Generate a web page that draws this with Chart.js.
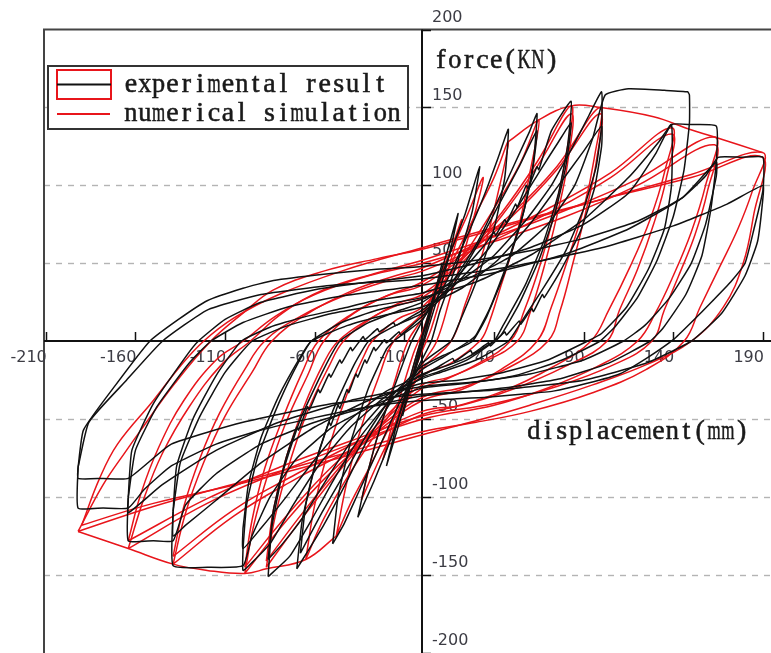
<!DOCTYPE html>
<html>
<head>
<meta charset="utf-8">
<script src="https://cdn.jsdelivr.net/npm/chart.js@4/dist/chart.umd.min.js"></script>
<style>
  html, body { margin: 0; padding: 0; background: #fff; }
  canvas { display: block; }
</style>
</head>
<body>
<canvas id="c" width="771" height="653"></canvas>
<script>
// Tick values along the two axes
const xTickValues = [-210, -160, -110, -60, -10, 40, 90, 140, 190];
const yTickValues = [-200, -150, -100, -50, 0, 50, 100, 150, 200];
const yGridValues = [-150, -100, -50, 50, 100, 150];

// Experimental hysteresis loops, [displacement mm, force kN]
const expLoop11 = [[-11,-48],[-5,-20],[0,2],[6,26],[11,50],[6,24],[0,-2],[-6,-26],[-11,-48]];
const expLoop20 = [[-20,-80],[-14,-52],[-6,-20],[0,4],[8,35],[14,58],[20,82],[15,55],[8,26],[0,-4],[-8,-34],[-14,-57],[-20,-80]];
const expLoop32 = [[-36,-113],[-30,-82],[-22,-50],[-12,-18],[-6,0],[4,22],[14,52],[24,82],[32,112],[28,84],[20,52],[10,20],[5,0],[-6,-25],[-16,-58],[-27,-90],[-36,-113]];
const expLoop48 = [[-50,-130],[-47,-100],[-40,-65],[-30,-30],[-20,-5],[-16,0],[0,14],[12,35],[24,65],[35,95],[43,120],[48,136],[46,105],[40,72],[30,38],[20,10],[16,0],[0,-14],[-12,-38],[-24,-68],[-36,-98],[-44,-118],[-50,-130]];
const expLoop64 = [[-70,-146],[-67,-115],[-60,-80],[-50,-45],[-38,-15],[-30,0],[-15,10],[0,18],[15,35],[30,62],[42,90],[52,115],[60,135],[64,146],[62,115],[57,85],[48,52],[38,22],[30,4],[26,0],[12,-10],[0,-18],[-15,-35],[-30,-62],[-43,-92],[-55,-118],[-64,-135],[-70,-146]];
const expLoop64b = [[-68,-136],[-65,-105],[-58,-72],[-52,-52],[-51,-54],[-47,-41],[-46,-43],[-42,-31],[-41,-33],[-37,-21],[-36,-23],[-32,-12],[-31,-14],[-27,-4],[-26,-6],[-21,1],[-20,-1],[-13,6],[-12,4],[-5,11],[0,16],[16,34],[30,60],[42,86],[54,112],[64,135],[61,106],[55,76],[46,44],[36,16],[28,0],[12,-9],[0,-16],[-16,-34],[-30,-58],[-44,-86],[-56,-110],[-68,-136]];
const expLoop83 = [[-86,-151],[-84,-120],[-78,-85],[-68,-50],[-55,-18],[-46,0],[-30,12],[-12,20],[0,25],[18,40],[35,62],[40,70],[41,68],[46,78],[47,76],[52,88],[53,86],[58,100],[59,98],[64,112],[65,110],[72,135],[83,154],[81,125],[76,95],[68,65],[57,35],[45,10],[40,0],[25,-12],[8,-20],[0,-23],[-18,-38],[-35,-62],[-50,-90],[-62,-115],[-74,-138],[-86,-151]];
const expLoop83b = [[-86,-140],[-83,-108],[-76,-75],[-70,-55],[-69,-57],[-64,-42],[-63,-44],[-58,-31],[-57,-33],[-52,-21],[-51,-23],[-46,-12],[-45,-14],[-40,-4],[-39,-6],[-33,3],[-32,1],[-25,8],[-24,6],[-16,12],[-15,10],[-6,16],[0,20],[18,36],[36,58],[52,84],[66,110],[76,128],[83,140],[80,112],[74,82],[65,52],[54,24],[44,4],[40,0],[24,-11],[8,-18],[0,-21],[-18,-35],[-36,-58],[-52,-86],[-66,-112],[-78,-130],[-86,-140]];
const expLoop100 = [[-100,-133],[-98,-105],[-92,-75],[-82,-45],[-72,-20],[-62,0],[-45,12],[-25,20],[0,27],[20,38],[40,55],[58,78],[72,100],[84,125],[93,145],[100,160],[100,138],[97,112],[90,85],[80,58],[68,35],[55,12],[48,0],[30,-12],[10,-20],[0,-24],[-20,-35],[-40,-55],[-58,-80],[-72,-105],[-85,-130],[-95,-142],[-100,-147],[-100,-133]];
const expLoop100b = [[-100,-120],[-97,-92],[-90,-62],[-80,-35],[-68,-10],[-62,0],[-42,10],[-20,17],[0,22],[22,34],[42,52],[60,75],[76,100],[90,122],[100,138],[100,125],[96,98],[88,70],[77,45],[68,28],[67,30],[62,19],[61,21],[55,11],[54,13],[47,4],[46,6],[38,-3],[37,-1],[28,-8],[27,-6],[18,-13],[17,-11],[8,-17],[0,-22],[-20,-32],[-42,-52],[-60,-76],[-76,-100],[-90,-120],[-100,-133],[-100,-120]];
const expLoop139 = [[-139,-109],[-135,-78],[-124,-48],[-110,-20],[-95,0],[-75,10],[-50,18],[-25,23],[0,28],[30,38],[60,55],[90,78],[115,105],[132,128],[139,139],[139,100],[135,72],[126,46],[114,22],[100,5],[92,0],[70,-12],[45,-20],[20,-25],[0,-27],[-30,-38],[-60,-55],[-90,-78],[-115,-102],[-132,-118],[-139,-125],[-139,-109]];
const expLoop149 = [[-139,-109],[-137,-80],[-128,-50],[-115,-22],[-101,0],[-85,9],[-68,15],[-45,21],[-27,26],[0,31],[25,40],[50,55],[70,75],[85,100],[95,130],[102,158],[115,162],[135,161],[148,160],[149,158],[149,140],[146,110],[140,80],[131,52],[120,28],[108,10],[99,0],[78,-12],[52,-22],[25,-27],[0,-30],[-25,-40],[-50,-55],[-70,-75],[-85,-100],[-95,-125],[-100,-144],[-120,-145],[-139,-144],[-139,-109]];
const expLoop164 = [[-164,-100],[-162,-70],[-150,-40],[-132,-10],[-125,0],[-110,14],[-90,25],[-60,33],[-30,38],[0,42],[30,50],[60,60],[90,75],[115,95],[130,120],[139,139],[150,139],[164,138],[164,115],[161,85],[156,55],[147,30],[134,8],[127,0],[104,-14],[77,-24],[45,-30],[20,-33],[0,-35],[-30,-42],[-60,-52],[-90,-66],[-115,-85],[-132,-105],[-139,-128],[-150,-128],[-164,-128],[-164,-100]];
const expLoop164b = [[-164,-100],[-160,-70],[-148,-42],[-130,-14],[-118,0],[-100,12],[-75,22],[-45,29],[0,36],[40,44],[80,56],[115,72],[145,92],[164,115],[164,106],[158,75],[150,50],[138,28],[124,10],[112,0],[90,-12],[60,-21],[30,-26],[0,-29],[-40,-38],[-80,-52],[-115,-70],[-145,-92],[-164,-110],[-164,-100]];
const expLoop190a = [[-192,-81],[-189,-57],[-171,-28],[-152,0],[-136,14],[-120,26],[-100,34],[-83,39],[-55,43],[-27,46],[0,48],[30,52],[60,58],[90,66],[120,77],[145,92],[158,106],[165,118],[178,118],[190,118],[190,97],[185,72],[180,50],[172,38],[162,26],[150,12],[140,1],[125,-11],[110,-21],[92,-27],[73,-32],[55,-34],[36,-36],[18,-37],[0,-38],[-30,-42],[-60,-49],[-90,-57],[-115,-66],[-140,-80],[-155,-95],[-164,-107],[-178,-107],[-192,-107],[-192,-81]];
const expLoop190b = [[-192,-81],[-186,-52],[-165,-25],[-145,0],[-120,20],[-90,30],[-50,36],[0,40],[50,48],[100,60],[140,74],[170,88],[190,100],[190,92],[187,64],[180,42],[167,18],[150,0],[125,-14],[90,-25],[45,-31],[0,-34],[-50,-40],[-100,-52],[-140,-66],[-164,-88],[-178,-88],[-192,-88],[-192,-81]];

// Numerical simulation loops, [displacement mm, force kN]
const simLoop12 = [[-12,-48],[-4,-12],[0,3],[6,24],[12,48],[4,14],[0,-3],[-6,-24],[-12,-48]];
const simLoop22 = [[-22,-76],[-14,-42],[-5,-8],[0,6],[10,38],[22,78],[14,44],[5,8],[0,-6],[-10,-36],[-22,-76]];
const simLoop34 = [[-34,-102],[-26,-65],[-16,-28],[-8,0],[0,15],[12,48],[24,78],[34,105],[26,68],[16,30],[8,0],[0,-15],[-12,-48],[-24,-76],[-34,-102]];
const simLoop48 = [[-48,-125],[-42,-90],[-34,-55],[-24,-22],[-16,0],[0,18],[16,50],[30,82],[40,105],[48,128],[42,94],[34,58],[24,24],[16,0],[0,-18],[-16,-50],[-30,-82],[-40,-104],[-48,-125]];
const simLoop65 = [[-65,-140],[-60,-105],[-52,-68],[-42,-34],[-32,-8],[-28,0],[-14,14],[0,22],[20,50],[40,85],[55,115],[65,142],[60,108],[53,70],[44,36],[36,8],[32,0],[16,-14],[0,-22],[-20,-50],[-40,-84],[-55,-114],[-65,-140]];
const simLoop85 = [[-87,-145],[-82,-112],[-74,-78],[-64,-45],[-52,-16],[-44,0],[-28,15],[-12,25],[0,30],[22,52],[44,82],[64,115],[83,151],[80,118],[74,84],[66,50],[57,20],[49,0],[30,-15],[12,-25],[0,-30],[-22,-52],[-44,-80],[-66,-112],[-87,-145]];
const simLoop85b = [[-87,-141],[-83,-108],[-76,-75],[-66,-42],[-55,-14],[-47,0],[-30,14],[-14,23],[0,28],[22,50],[44,80],[64,112],[83,146],[81,114],[75,80],[68,48],[60,18],[53,0],[33,-14],[15,-23],[0,-28],[-22,-50],[-44,-78],[-66,-109],[-87,-141]];
const simLoop99 = [[-99,-149],[-94,-118],[-86,-85],[-76,-52],[-64,-22],[-55,0],[-38,18],[-18,30],[0,38],[25,58],[50,82],[75,112],[99,150],[96,118],[90,85],[81,52],[72,22],[64,0],[44,-18],[22,-31],[0,-38],[-25,-58],[-50,-83],[-75,-114],[-99,-149]];
const simLoop99b = [[-99,-145],[-95,-115],[-88,-82],[-78,-50],[-67,-20],[-58,0],[-40,17],[-20,29],[0,36],[25,56],[50,80],[75,110],[99,146],[97,115],[91,82],[84,50],[77,20],[70,0],[48,-17],[24,-29],[0,-36],[-25,-56],[-50,-80],[-75,-111],[-99,-145]];
const simLoop139 = [[-139,-143],[-132,-110],[-122,-78],[-110,-48],[-95,-20],[-84,0],[-65,17],[-40,32],[-15,42],[0,47],[35,65],[70,85],[105,108],[139,137],[135,108],[127,78],[116,48],[104,20],[94,0],[72,-17],[45,-32],[18,-42],[0,-47],[-35,-67],[-70,-88],[-105,-112],[-139,-143]];
const simLoop139b = [[-139,-138],[-133,-106],[-124,-75],[-113,-46],[-99,-18],[-88,0],[-68,16],[-42,30],[-16,40],[0,45],[35,62],[70,82],[105,105],[139,133],[136,104],[129,75],[120,46],[110,20],[103,0],[80,-16],[50,-31],[22,-41],[0,-45],[-35,-64],[-70,-85],[-105,-108],[-139,-138]];
const simLoop163 = [[-164,-133],[-155,-100],[-145,-72],[-130,-42],[-112,-15],[-96,0],[-78,18],[-55,33],[-25,44],[0,52],[40,67],[80,84],[120,104],[163,131],[158,100],[150,70],[140,42],[130,18],[120,0],[98,-16],[70,-30],[40,-41],[0,-50],[-40,-66],[-80,-84],[-120,-104],[-164,-133]];
const simLoop163b = [[-164,-128],[-157,-98],[-147,-68],[-133,-38],[-115,-12],[-100,0],[-82,16],[-60,30],[-30,42],[0,50],[40,64],[80,80],[120,100],[163,126],[159,96],[152,68],[143,42],[135,20],[128,0],[105,-16],[75,-29],[40,-40],[0,-48],[-40,-64],[-80,-81],[-120,-101],[-164,-128]];
const simLoop190a = [[-192,-122],[-178,-92],[-165,-70],[-157,-57],[-138,-27],[-118,0],[-100,18],[-83,33],[-55,45],[-25,53],[0,59],[50,75],[100,91],[150,107],[190,121],[184,96],[176,72],[166,48],[155,22],[146,0],[125,-18],[95,-33],[60,-45],[30,-52],[0,-58],[-50,-74],[-100,-90],[-150,-106],[-192,-122]];
const simLoop190b = [[-190,-118],[-180,-88],[-170,-66],[-150,-38],[-135,-16],[-122,0],[-105,15],[-80,30],[-45,45],[0,60],[50,76],[100,91],[150,105],[190,118],[185,82],[179,50],[168,22],[150,0],[125,-15],[95,-28],[60,-41],[30,-51],[0,-60],[-50,-76],[-100,-91],[-150,-104],[-190,-118]];
const simEnvelopePos = [[48,128],[65,142],[83,151],[99,150],[129,144],[149,136],[163,131],[190,121]];
const simEnvelopeNeg = [[-48,-125],[-65,-140],[-87,-146],[-99,-149],[-120,-147],[-139,-143],[-164,-133],[-192,-122]];

const expLoops = [expLoop11, expLoop20, expLoop32, expLoop48, expLoop64, expLoop64b, expLoop83, expLoop83b,
  expLoop100, expLoop100b, expLoop139, expLoop149, expLoop164, expLoop164b, expLoop190a, expLoop190b];
const simLoops = [simLoop12, simLoop22, simLoop34, simLoop48, simLoop65, simLoop85, simLoop85b, simLoop99, simLoop99b,
  simLoop139, simLoop139b, simLoop163, simLoop163b, simLoop190a, simLoop190b, simEnvelopePos, simEnvelopeNeg];

const RED = '#e8151b';
const toPoints = arr => arr.map(([x, y]) => ({ x, y }));
const datasets = [];
expLoops.forEach(loop => datasets.push({
  data: toPoints(loop), showLine: true, borderColor: '#111', borderWidth: 1.5,
  pointRadius: 0, tension: 0.15, fill: false
}));
simLoops.forEach(loop => datasets.push({
  data: toPoints(loop), showLine: true, borderColor: RED, borderWidth: 1.5,
  pointRadius: 0, tension: 0.4, fill: false
}));

const labelFont = '16px "DejaVu Sans", Verdana, sans-serif';
const serifFont = '28px "Liberation Serif", "DejaVu Serif", serif';
const CELL = 13.85;

// Text set on a fixed character grid; wide glyphs are squeezed into their cell
function drawGridText(ctx, text, left, mid) {
  ctx.font = serifFont;
  ctx.textAlign = 'center';
  ctx.textBaseline = 'middle';
  ctx.lineWidth = 0.55;
  ctx.strokeStyle = ctx.fillStyle;
  for (let i = 0; i < text.length; i++) {
    const ch = text[i];
    if (ch === ' ') continue;
    const w = ctx.measureText(ch).width;
    const s = w > CELL * 0.95 ? (CELL * 0.95) / w : 1;
    ctx.save();
    ctx.translate(left + CELL * (i + 0.5), mid);
    ctx.scale(s, 1);
    ctx.fillText(ch, 0, 0);
    ctx.strokeText(ch, 0, 0);
    ctx.restore();
  }
}

// Frame, dashed grid, centred axes with ticks and labels
const axesDecor = {
  id: 'axesDecor',
  beforeDatasetsDraw(chart) {
    const { ctx, chartArea: a, scales: { x, y } } = chart;
    const x0 = Math.round(x.getPixelForValue(0));
    const y0 = Math.round(y.getPixelForValue(0));
    ctx.save();
    ctx.strokeStyle = '#b4b4b4';
    ctx.lineWidth = 1.4;
    ctx.setLineDash([6, 6]);
    yGridValues.forEach(v => {
      const py = Math.round(y.getPixelForValue(v)) + 0.5;
      ctx.beginPath(); ctx.moveTo(a.left, py); ctx.lineTo(a.right, py); ctx.stroke();
    });
    ctx.setLineDash([]);
    ctx.strokeStyle = '#444';
    ctx.lineWidth = 2;
    ctx.beginPath();
    ctx.moveTo(a.left, a.bottom); ctx.lineTo(a.left, a.top); ctx.lineTo(a.right, a.top);
    ctx.stroke();
    ctx.strokeStyle = '#111';
    ctx.lineWidth = 2;
    ctx.beginPath();
    ctx.moveTo(a.left, y0); ctx.lineTo(a.right, y0);
    ctx.moveTo(x0, a.top); ctx.lineTo(x0, a.bottom);
    ctx.stroke();
    ctx.lineWidth = 1.5;
    ctx.beginPath();
    xTickValues.forEach(v => {
      const px = Math.round(x.getPixelForValue(v)) + 0.5;
      ctx.moveTo(px, y0); ctx.lineTo(px, y0 - 9);
    });
    yTickValues.forEach(v => {
      const py = Math.round(y.getPixelForValue(v)) + 0.5;
      ctx.moveTo(x0, py); ctx.lineTo(x0 + 9, py);
    });
    ctx.stroke();
    ctx.fillStyle = '#3c3c44';
    ctx.font = labelFont;
    ctx.textBaseline = 'middle';
    ctx.textAlign = 'right';
    xTickValues.forEach(v => {
      ctx.fillText(String(v), x.getPixelForValue(v) + 1, y0 + 17);
    });
    ctx.textAlign = 'left';
    yTickValues.forEach(v => {
      if (v === 0) return;
      ctx.fillText(String(v), x0 + 10, y.getPixelForValue(v) - 12);
    });
    ctx.restore();
  },
  afterDatasetsDraw(chart) {
    const { ctx } = chart;
    ctx.save();
    ctx.fillStyle = '#1a1a1a';
    drawGridText(ctx, 'force(KN)', 434, 61);
    drawGridText(ctx, 'displacement(mm)', 527, 432);
    // legend
    ctx.fillStyle = '#fff';
    ctx.fillRect(48, 66, 360, 63);
    ctx.strokeStyle = '#333';
    ctx.lineWidth = 2;
    ctx.strokeRect(48, 66, 360, 63);
    ctx.strokeStyle = RED;
    ctx.strokeRect(57, 70, 54, 29);
    ctx.strokeStyle = '#111';
    ctx.beginPath(); ctx.moveTo(57, 84.5); ctx.lineTo(111, 84.5); ctx.stroke();
    ctx.strokeStyle = RED;
    ctx.beginPath(); ctx.moveTo(57, 114); ctx.lineTo(110, 114); ctx.stroke();
    ctx.fillStyle = '#1a1a1a';
    drawGridText(ctx, 'experimental result', 124, 85);
    drawGridText(ctx, 'numerical simulation', 124, 114);
    ctx.restore();
  }
};

new Chart(document.getElementById('c'), {
  type: 'scatter',
  data: { datasets },
  options: {
    responsive: false,
    animation: false,
    layout: { padding: { left: 44, top: 29.5, right: 0, bottom: 0 } },
    scales: {
      x: { type: 'linear', min: -211, max: 194.5, display: false },
      y: { type: 'linear', min: -200, max: 200, display: false }
    },
    plugins: { legend: { display: false }, tooltip: { enabled: false } },
    elements: { point: { radius: 0 } }
  },
  plugins: [axesDecor]
});
</script>
</body>
</html>
